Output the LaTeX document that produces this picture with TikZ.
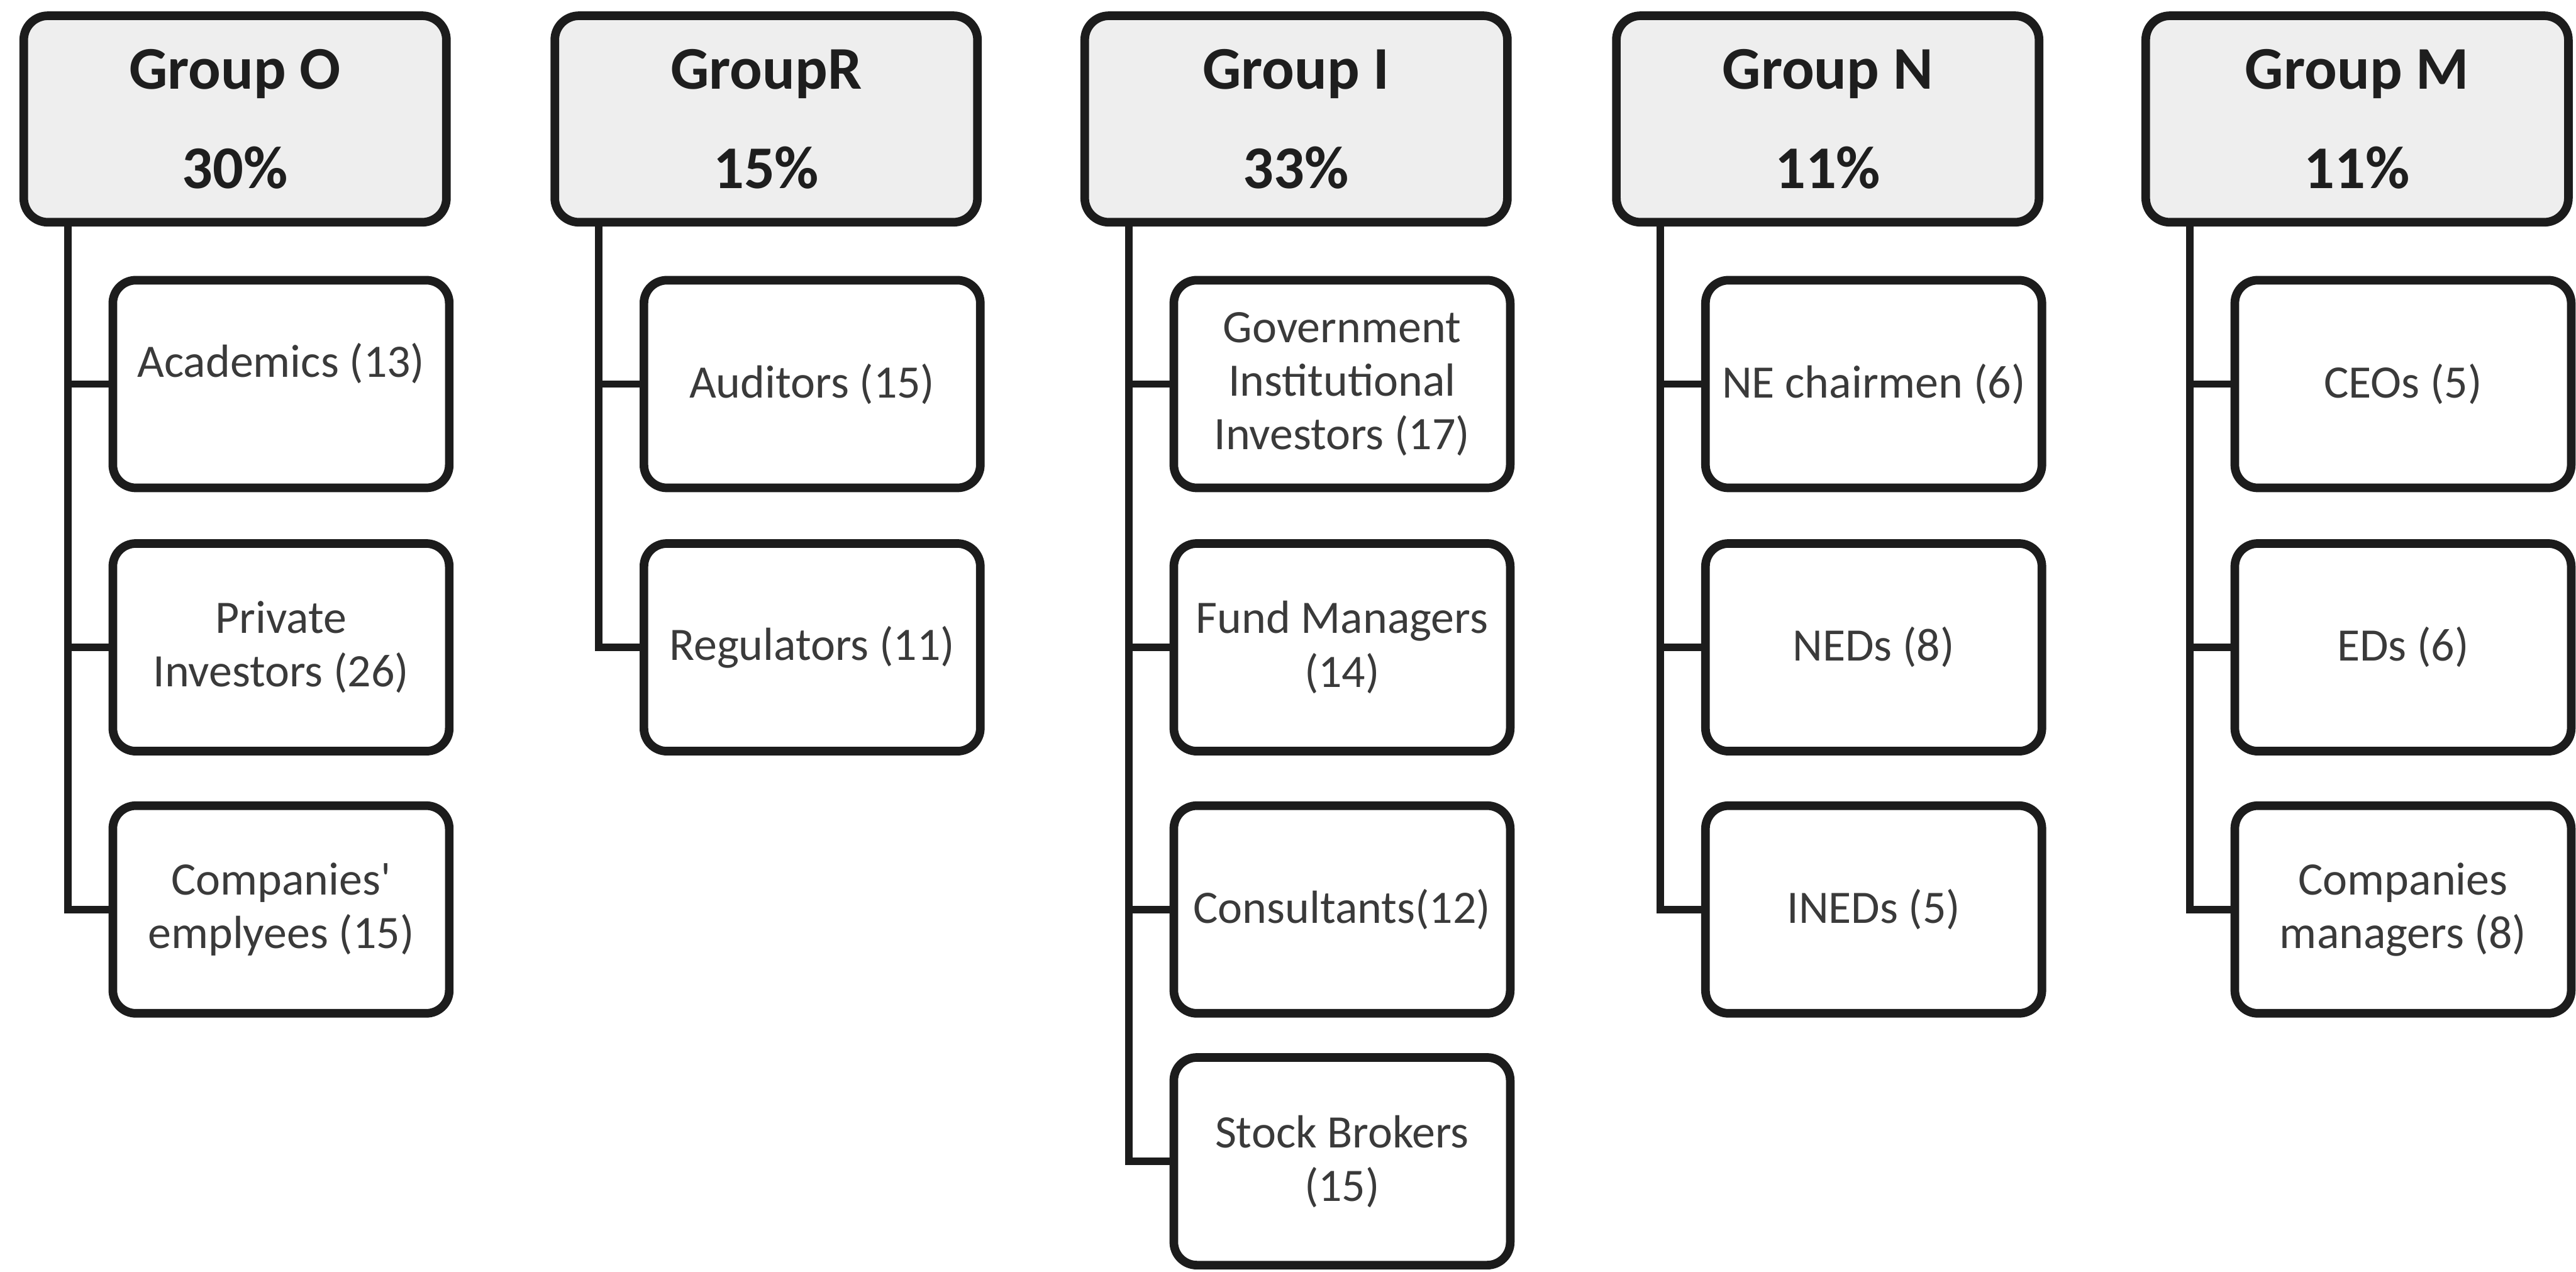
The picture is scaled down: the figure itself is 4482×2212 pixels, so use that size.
\documentclass[tikz,border=0pt]{standalone}
\usepackage{fontspec}
\setmainfont{Carlito}[Ligatures=TeXOff]
\definecolor{linec}{HTML}{1C1C1C}
\definecolor{hdrfill}{HTML}{EEEEEE}
\definecolor{hdrtext}{HTML}{1E1E1E}
\definecolor{itemtext}{HTML}{3A3A3A}
\begin{document}
\begin{tikzpicture}[x=0.01cm,y=-0.01cm,
  hdr/.style={draw=linec, line width=0.15cm, rounded corners=0.42cm, fill=hdrfill,
    minimum width=7.35cm, minimum height=3.59cm, inner sep=0pt, align=center,
    font=\bfseries\fontsize{30}{49}\selectfont, text=hdrtext},
  item/.style={draw=linec, line width=0.15cm, rounded corners=0.4cm, fill=white,
    minimum width=5.85cm, minimum height=3.61cm, inner sep=0pt, align=center,
    font=\fontsize{23}{26.5}\selectfont, text=itemtext},
  conn/.style={draw=linec, line width=0.13cm}]
\fill[white] (0,0) rectangle (4482,2212);
\useasboundingbox (0,0) rectangle (4482,2212);

% ---------- Group O ----------
\node[hdr] (hO) at (409,207) {Group O\\30\%};
\node[item] (O1) at (489,668) {Academics (13)\\[-3pt]\mbox{}};
\node[item] (O2) at (489,1126) {Private\\Investors (26)};
\node[item] (O3) at (489,1582) {Companies'\\emplyees (15)};
\coordinate (sO) at (118,394);

% ---------- Group R ----------
\node[hdr] (hR) at (1333,207) {GroupR\\15\%};
\node[item] (R1) at (1413,668) {Auditors (15)};
\node[item] (R2) at (1413,1126) {Regulators (11)};
\coordinate (sR) at (1042,394);

% ---------- Group I ----------
\node[hdr] (hI) at (2255,207) {Group I\\33\%};
\node[item] (I1) at (2335,668) {Government\\Institutional\\Investors (17)};
\node[item] (I2) at (2335,1126) {Fund Managers\\(14)};
\node[item] (I3) at (2335,1582) {Consultants(12)};
\node[item] (I4) at (2335,2020) {Stock Brokers\\(15)};
\coordinate (sI) at (1964,394);

% ---------- Group N ----------
\node[hdr] (hN) at (3180,207) {Group N\\11\%};
\node[item] (N1) at (3260,668) {NE chairmen (6)};
\node[item] (N2) at (3260,1126) {NEDs (8)};
\node[item] (N3) at (3260,1582) {INEDs (5)};
\coordinate (sN) at (2889,394);

% ---------- Group M ----------
\node[hdr] (hM) at (4101,207) {Group M\\11\%};
\node[item] (M1) at (4181,668) {CEOs (5)};
\node[item] (M2) at (4181,1126) {EDs (6)};
\node[item] (M3) at (4181,1582) {Companies\\managers (8)};
\coordinate (sM) at (3810,394);

% ---------- connectors ----------
\draw[conn] (sO) |- (O3.west);
\draw[conn] (sO |- O1.west) -- (O1.west);
\draw[conn] (sO |- O2.west) -- (O2.west);

\draw[conn] (sR) |- (R2.west);
\draw[conn] (sR |- R1.west) -- (R1.west);

\draw[conn] (sI) |- (I4.west);
\draw[conn] (sI |- I1.west) -- (I1.west);
\draw[conn] (sI |- I2.west) -- (I2.west);
\draw[conn] (sI |- I3.west) -- (I3.west);

\draw[conn] (sN) |- (N3.west);
\draw[conn] (sN |- N1.west) -- (N1.west);
\draw[conn] (sN |- N2.west) -- (N2.west);

\draw[conn] (sM) |- (M3.west);
\draw[conn] (sM |- M1.west) -- (M1.west);
\draw[conn] (sM |- M2.west) -- (M2.west);
\end{tikzpicture}
\end{document}
